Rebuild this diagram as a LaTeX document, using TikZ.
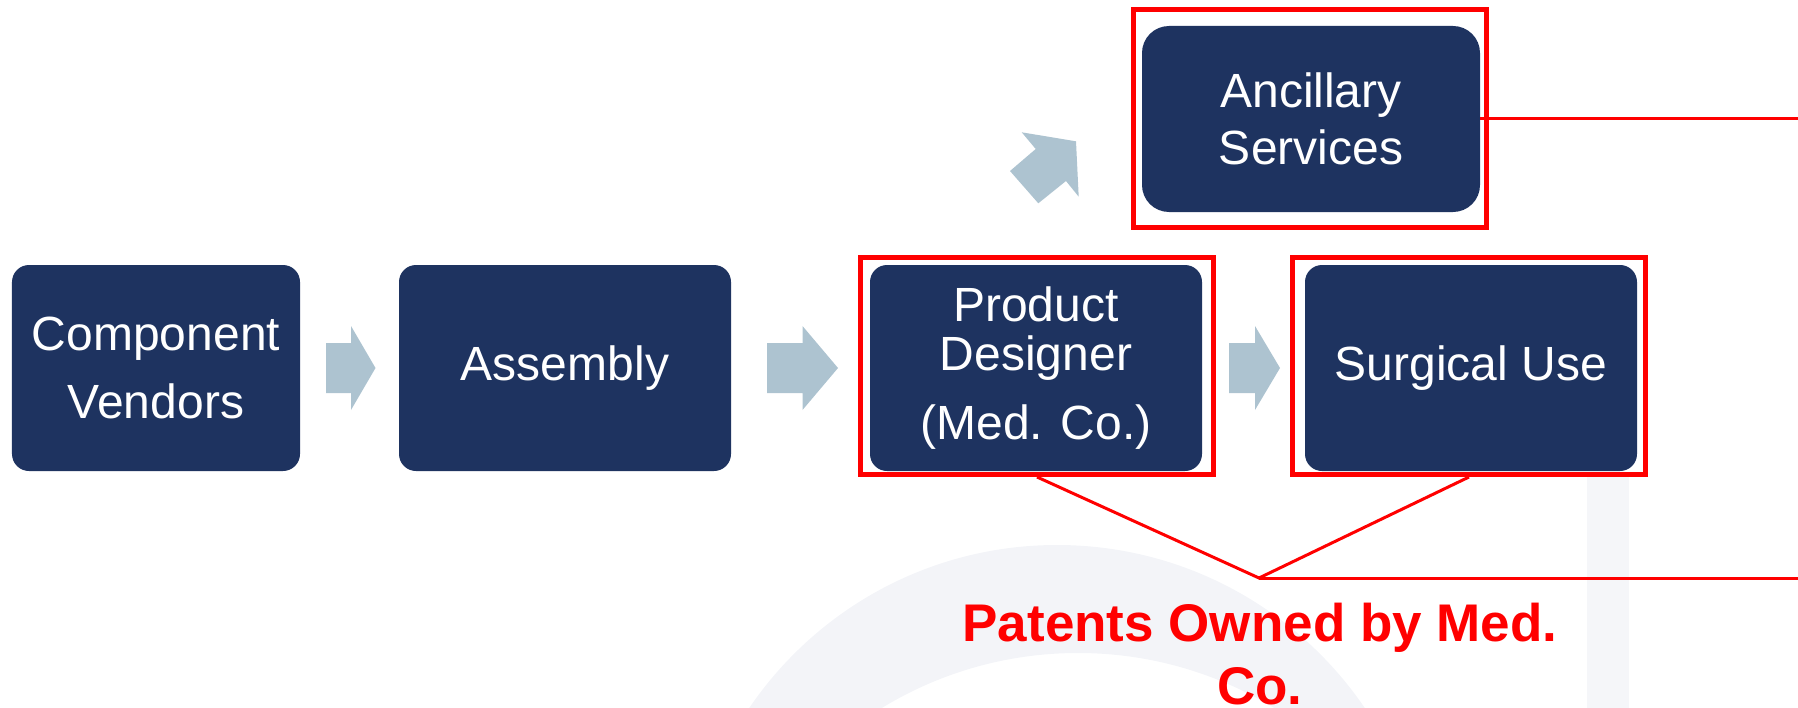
\documentclass[tikz,border=0pt]{standalone}
\usepackage{fontspec}
\setmainfont{Liberation Sans}
\usetikzlibrary{calc}

\definecolor{navy}{RGB}{30,51,96}
\definecolor{arrowblue}{RGB}{173,195,208}
\definecolor{patentred}{RGB}{255,0,0}
\definecolor{wmgray}{RGB}{243,244,248}

\tikzset{
  stagebox/.style={fill=navy, text=white, rounded corners=17bp,
    minimum width=332bp, minimum height=206bp, align=center, inner sep=0pt,
    font=\fontsize{48bp}{57bp}\selectfont},
  redframe/.style={draw=patentred, line width=5bp, minimum width=353bp,
    minimum height=217bp, inner sep=0pt},
  redline/.style={draw=patentred, line width=3bp},
  blockarrow/.style={fill=arrowblue},
  watermark/.style={fill=wmgray},
}

% horizontal block arrow: #1 tail x, #2 head start x, #3 tip x (centre line y = 368)
\newcommand\flowarrow[3]{%
  \fill[blockarrow] (#1,343) -- (#2,343) -- (#2,326) -- (#3,368)
    -- (#2,410) -- (#2,393) -- (#1,393) -- cycle;}

\begin{document}
\begin{tikzpicture}[x=1bp, y=-1bp]
  \useasboundingbox (0,0) rectangle (1798,708);

  % faint background watermark
  \begin{scope}
    \clip (0,0) rectangle (1798,708);
    \fill[watermark, even odd rule] (1057,917) circle[radius=372]
      (1078,1030) circle[radius=377];
    \fill[wmgray!80!white] (1587,477) rectangle (1629,708);
  \end{scope}

  % stages of the chain
  \node[stagebox, minimum width=288bp, font=\fontsize{48bp}{67.5bp}\selectfont]
    (cv) at (156,368) {Component\\Vendors};
  \node[stagebox] (asm) at (565,368) {Assembly};
  \node[stagebox, font=\fontsize{48bp}{49.5bp}\selectfont]
    (pd) at (1036,368) {Product\\Designer\\[19.5bp](Med. Co.)};
  \node[stagebox] (su) at (1471,368) {Surgical Use};
  \node[stagebox, minimum width=338bp, minimum height=186bp, rounded corners=27bp]
    (anc) at (1311,119) {Ancillary\\Services};

  % red highlight frames
  \node[redframe] (ancf) at (1310,118.5) {};
  \node[redframe] (pdf) at (1037,366) {};
  \node[redframe] (suf) at (1469,366) {};

  % flow arrows
  \flowarrow{326}{351}{375.5}
  \flowarrow{767}{802.5}{838}
  \flowarrow{1229}{1255}{1280}
  \fill[blockarrow] (1021.7,132.3) -- (1076,141.3) -- (1078.7,196.7)
    -- (1066,181) -- (1038.3,203.3) -- (1010,171) -- (1035.7,149) -- cycle;

  % patent callout
  \coordinate (pv) at (1259,578);
  \coordinate (pedge) at (1798,578);
  \coordinate (aedge) at (1798,119);
  \draw[redline] (pdf.south) -- (pv) -- (suf.south);
  \draw[redline] (pv) -- (pedge);
  \draw[redline] (anc.east) -- (aedge);

  \node[text=patentred, align=center, inner sep=0pt,
    font=\fontsize{53bp}{63bp}\selectfont\bfseries]
    (patents) at (1260,654) {Patents Owned by Med.\\Co.};
\end{tikzpicture}
\end{document}
